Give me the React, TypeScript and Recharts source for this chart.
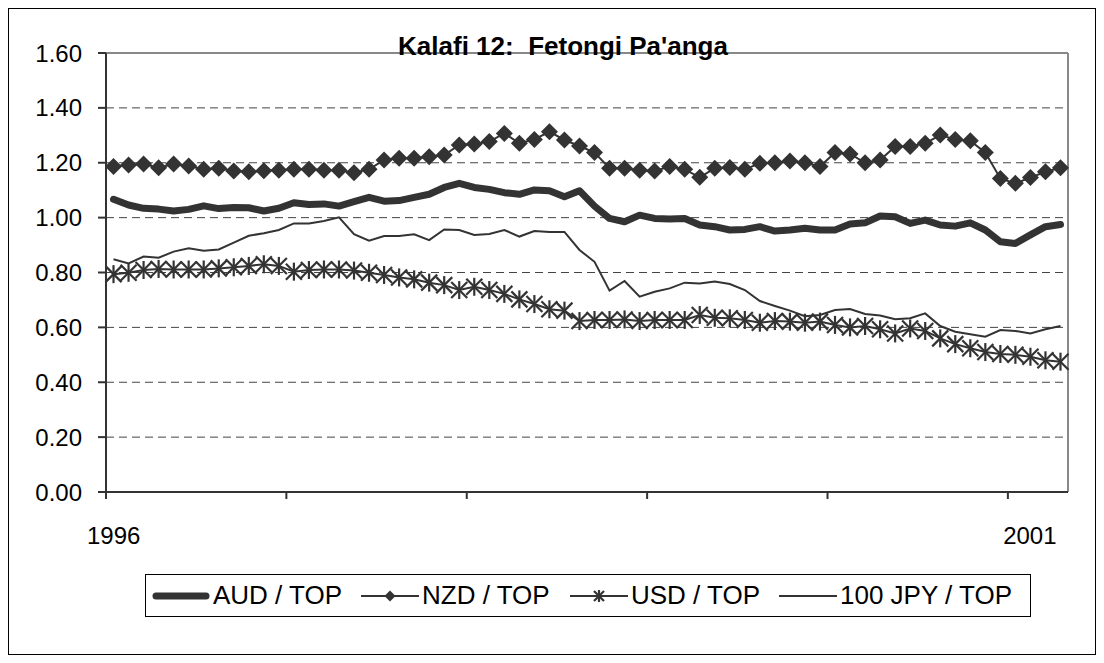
import React from "react";
import { LineChart, Line, XAxis, YAxis, CartesianGrid, ReferenceLine } from "recharts";

// monthly, Jan 1996 .. Apr 2001
const audTop = [
  1.067, 1.046, 1.034, 1.031, 1.024, 1.03, 1.043, 1.033, 1.037, 1.036, 1.024, 1.034,
  1.054, 1.048, 1.05, 1.042, 1.058, 1.074, 1.06, 1.062, 1.074, 1.085, 1.11, 1.125,
  1.11, 1.103, 1.091, 1.085, 1.101, 1.098, 1.076, 1.098, 1.042, 0.997, 0.985, 1.009,
  0.997, 0.995, 0.997, 0.973, 0.967, 0.955, 0.957, 0.967, 0.951, 0.955, 0.961, 0.955,
  0.955, 0.977, 0.981, 1.006, 1.003, 0.979, 0.991, 0.973, 0.969, 0.981, 0.955, 0.912,
  0.906, 0.937, 0.967, 0.975,
];
const nzdTop = [
  1.186, 1.192, 1.195, 1.182, 1.195, 1.188, 1.176, 1.18, 1.17, 1.167, 1.171, 1.173,
  1.176, 1.176, 1.173, 1.173, 1.164, 1.176, 1.21, 1.216, 1.216, 1.222, 1.228, 1.265,
  1.268, 1.277, 1.307, 1.271, 1.285, 1.313, 1.283, 1.261, 1.237, 1.18, 1.18, 1.173,
  1.17, 1.186, 1.176, 1.147, 1.18, 1.183, 1.176, 1.198, 1.2, 1.206, 1.2, 1.186,
  1.237, 1.232, 1.2, 1.21, 1.259, 1.259, 1.271, 1.301, 1.285, 1.28, 1.237, 1.143,
  1.125, 1.146, 1.167, 1.182,
];
const usdTop = [
  0.794, 0.799, 0.809, 0.813, 0.811, 0.811, 0.811, 0.815, 0.819, 0.824, 0.83, 0.824,
  0.803, 0.809, 0.811, 0.811, 0.807, 0.799, 0.791, 0.782, 0.775, 0.763, 0.754, 0.736,
  0.748, 0.736, 0.722, 0.702, 0.685, 0.666, 0.661, 0.623, 0.627, 0.627, 0.629, 0.623,
  0.627, 0.627, 0.627, 0.645, 0.635, 0.633, 0.627, 0.617, 0.623, 0.621, 0.617, 0.621,
  0.609, 0.6, 0.605, 0.593, 0.578, 0.596, 0.587, 0.56, 0.539, 0.524, 0.51, 0.503,
  0.5, 0.493, 0.48, 0.475,
];
const jpyTop = [
  0.848, 0.833, 0.858, 0.854, 0.876, 0.888, 0.879, 0.884, 0.909, 0.934, 0.943, 0.955,
  0.979, 0.979, 0.988, 1.001, 0.94, 0.916, 0.933, 0.933, 0.939, 0.918, 0.957, 0.955,
  0.937, 0.94, 0.955, 0.931, 0.951, 0.948, 0.948, 0.882, 0.839, 0.734, 0.769, 0.712,
  0.73, 0.742, 0.763, 0.76, 0.767, 0.758, 0.736, 0.696, 0.678, 0.661, 0.641, 0.645,
  0.663, 0.667, 0.649, 0.643, 0.63, 0.633, 0.651, 0.605, 0.584, 0.575, 0.566, 0.59,
  0.587, 0.578, 0.593, 0.605,
];

const yTicks = [0, 0.2, 0.4, 0.6, 0.8, 1.0, 1.2, 1.4, 1.6];
const yearTicks = [0, 12, 24, 36, 48, 60];
const yearLabelAt = [0.5, 60.5];
const yearLabels = ["1996", "2001"];

// each month sits in the middle of its slot
const data = audTop.map((v, i) => ({
  m: i + 0.5,
  aud: v,
  nzd: nzdTop[i],
  usd: usdTop[i],
  jpy: jpyTop[i],
}));

const INK = "#333333";
const FONT = '"Liberation Sans", Arial, sans-serif';

function Diamond({ cx, cy, r = 8.5 }: { cx: number; cy: number; r?: number }) {
  return <polygon points={`${cx},${cy - r} ${cx + r},${cy} ${cx},${cy + r} ${cx - r},${cy}`} fill={INK} />;
}

function Star({ cx, cy, r = 8 }: { cx: number; cy: number; r?: number }) {
  return (
    <g stroke={INK} strokeWidth={2.2}>
      <line x1={cx - r} y1={cy - r} x2={cx + r} y2={cy + r} />
      <line x1={cx - r} y1={cy + r} x2={cx + r} y2={cy - r} />
      <line x1={cx} y1={cy - r - 1} x2={cx} y2={cy + r + 1} />
    </g>
  );
}

function LegendItem({ kind, label }: { kind: string; label: string }) {
  return (
    <div style={{ display: "flex", alignItems: "center", width: 209, flex: "0 0 auto", whiteSpace: "nowrap" }}>
      <svg width={58} height={20} style={{ marginRight: 3, flex: "0 0 auto" }}>
        <line x1={kind === "aud" ? 4 : 0} y1={10} x2={kind === "aud" ? 54 : 58} y2={10} stroke={INK}
          strokeWidth={kind === "aud" ? 7 : 2} strokeLinecap={kind === "aud" ? "round" : "butt"} />
        {kind === "nzd" && <Diamond cx={29} cy={10} r={5.5} />}
        {kind === "usd" && <Star cx={29} cy={10} r={5} />}
      </svg>
      <span>{label}</span>
    </div>
  );
}

export default function App() {
  return (
    <div style={{ position: "relative", width: 1086, height: 645, border: "1px solid #000", background: "#fff", fontFamily: FONT }}>
      <LineChart width={1086} height={645} data={data} margin={{ top: 44, right: 27, bottom: 110, left: 0 }}>
        <CartesianGrid xAxisId="axis" vertical={false} stroke="#444" strokeDasharray="8 5" />
        <XAxis xAxisId="axis" dataKey="m" type="number" domain={[0, 64]} ticks={yearTicks} interval={0}
          tickFormatter={() => ""} tickSize={7} height={12} stroke={INK} strokeWidth={2} />
        <XAxis xAxisId="years" type="number" domain={[0, 64]} ticks={yearLabelAt} interval={0}
          tickFormatter={(v: number) => yearLabels[yearLabelAt.indexOf(v)] ?? ""}
          axisLine={false} tickLine={false} height={40} tickMargin={17}
          tick={{ fontSize: 24, fill: "#000", fontFamily: FONT }} />
        <YAxis domain={[0, 1.6]} ticks={yTicks} interval={0} width={97} tickSize={8} tickMargin={16}
          tickFormatter={(v: number) => v.toFixed(2)} stroke={INK} strokeWidth={2}
          tick={{ fontSize: 24, fill: "#000", fontFamily: FONT }} />
        <ReferenceLine xAxisId="axis" y={1.6} stroke="#888" strokeWidth={2} />
        <ReferenceLine xAxisId="axis" x={64} stroke="#888" strokeWidth={2} />
        <Line xAxisId="axis" dataKey="aud" name="AUD / TOP" stroke={INK} strokeWidth={7} dot={false}
          strokeLinejoin="round" strokeLinecap="round" isAnimationActive={false} />
        <Line xAxisId="axis" dataKey="nzd" name="NZD / TOP" stroke={INK} strokeWidth={2} isAnimationActive={false}
          dot={(p: any) => <Diamond key={p.index} cx={p.cx} cy={p.cy} />} />
        <Line xAxisId="axis" dataKey="usd" name="USD / TOP" stroke={INK} strokeWidth={2} isAnimationActive={false}
          dot={(p: any) => <Star key={p.index} cx={p.cx} cy={p.cy} />} />
        <Line xAxisId="axis" dataKey="jpy" name="100 JPY / TOP" stroke={INK} strokeWidth={2} dot={false}
          isAnimationActive={false} />
      </LineChart>
      <div style={{ position: "absolute", left: 254, top: 24, width: 600, textAlign: "center", fontSize: 26, lineHeight: "26px", fontWeight: "bold", color: "#000" }}>
        Kalafi 12:&nbsp; Fetongi Pa'anga
      </div>
      <div style={{ position: "absolute", left: 136, top: 565, width: 878, height: 41, border: "1px solid #000", display: "flex", alignItems: "center", paddingLeft: 6, boxSizing: "content-box", fontSize: 26, color: "#000" }}>
        <LegendItem kind="aud" label="AUD / TOP" />
        <LegendItem kind="nzd" label="NZD / TOP" />
        <LegendItem kind="usd" label="USD / TOP" />
        <LegendItem kind="jpy" label="100 JPY / TOP" />
      </div>
    </div>
  );
}
